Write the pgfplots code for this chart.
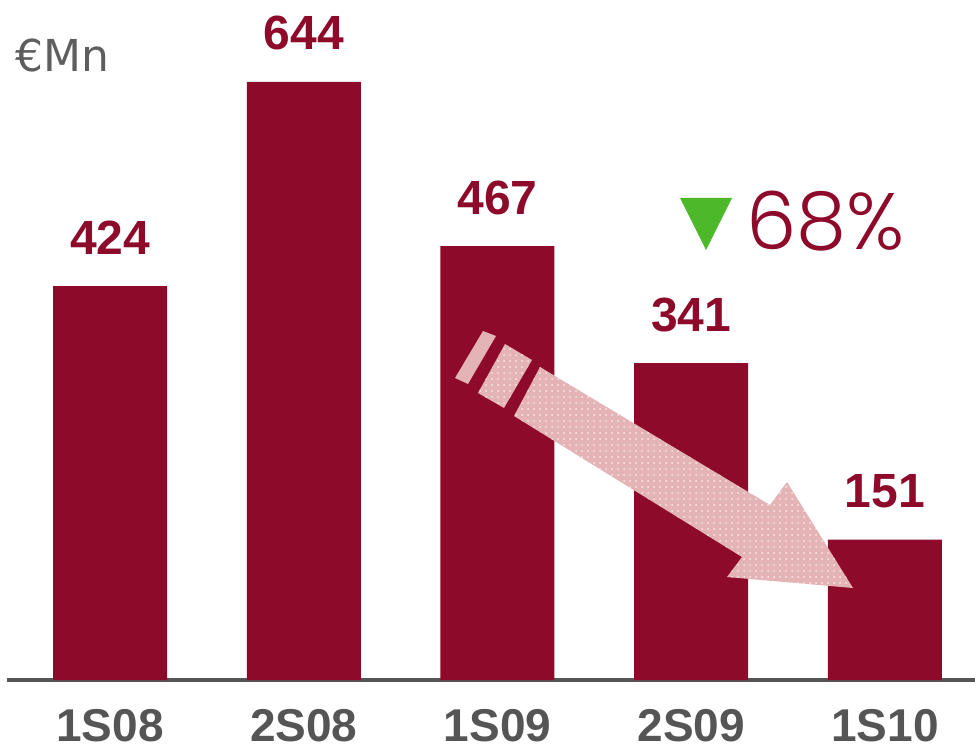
\documentclass[border=0pt]{standalone}
\usepackage{pgfplots}
\pgfplotsset{compat=1.18}
\usepackage{fontspec}
\setmainfont{Liberation Sans}
\newfontfamily\unitfont{DejaVu Sans}
\newfontfamily\pctfont[UprightFont=* Light]{Poppins}
\usetikzlibrary{patterns}
\definecolor{barred}{HTML}{8E0A2B}
\definecolor{axisgray}{HTML}{555555}
\definecolor{arrowpink}{HTML}{E4B3B6}
\definecolor{downgreen}{HTML}{4CB82A}

\begin{document}
\begin{tikzpicture}
\begin{axis}[
    scale only axis,
    width=484pt, height=340pt,
    xmin=-0.532, xmax=4.465,
    ymin=0, ymax=732,
    axis x line*=bottom,
    axis y line=none,
    x axis line style={-, line width=2pt, axisgray},
    xtick=data,
    xticklabels={1S08,2S08,1S09,2S09,1S10},
    major tick length=0pt,
    xticklabel style={font=\bfseries\fontsize{23}{23}\selectfont, text=axisgray,
        anchor=base, inner sep=0pt, yshift=-30.5pt},
    ybar, bar width=57pt, bar shift=0pt,
    nodes near coords,
    every node near coord/.append style={font=\bfseries\fontsize{24}{24}\selectfont,
        /pgf/number format/assume math mode=true,
        text=barred, anchor=base, inner sep=0pt, yshift=16pt},
    clip=false,
]
\addplot[fill=barred, draw=none] coordinates {(0,424)(1,644)(2,467)(3,341)(4,151)};
\end{axis}

% annotations, in pixel units of the reference
\begin{scope}[shift={([xshift=-3.5pt,yshift=340pt]current axis.south west)}, x=0.5pt, y=-0.5pt]
  \node[anchor=base west, inner sep=0pt, text=axisgray!95!white]
    at (15,72) {\unitfont\fontsize{22}{22}\selectfont €Mn};
  % trend arrow
  \fill[arrowpink] (540,367)--(770,505)--(787,482)--(853,588)--(727,577)--(742,557)--(514,416)--cycle;
  \fill[pattern=dots, pattern color=white!70!arrowpink] (540,367)--(770,505)--(787,482)--(853,588)--(727,577)--(742,557)--(514,416)--cycle;
  \fill[arrowpink] (483,331)--(496,336)--(468,384)--(455,378)--cycle;
  \fill[arrowpink] (505,344)--(532,360)--(504,408)--(478,393)--cycle;
  \fill[pattern=dots, pattern color=white!70!arrowpink] (505,344)--(532,360)--(504,408)--(478,393)--cycle;
  % change marker
  \fill[downgreen] (680,198)--(732,198)--(706,250)--cycle;
  \node[anchor=base west, inner sep=0pt, text=barred]
    at (746,250) {\pctfont\fontsize{40}{40}\selectfont 68\%};
  \pgfresetboundingbox
  \path[use as bounding box] (0,0) rectangle (975,751);
\end{scope}
\end{tikzpicture}
\end{document}
